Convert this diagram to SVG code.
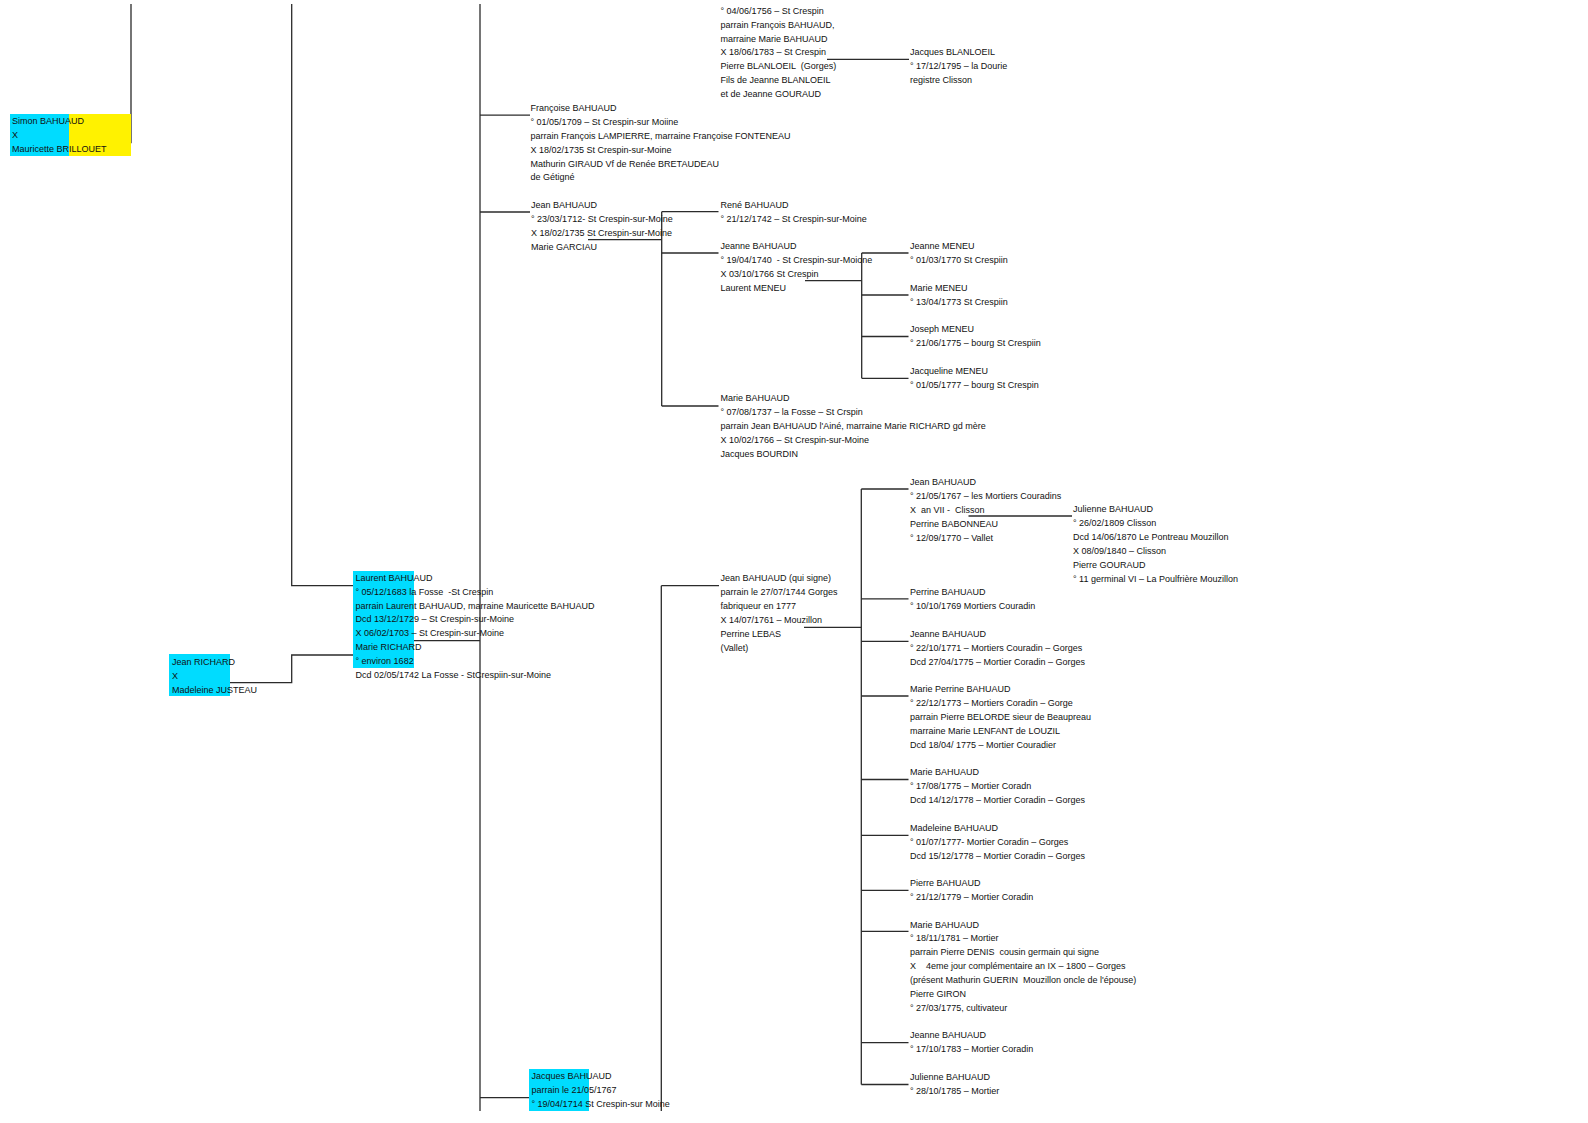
<svg xmlns="http://www.w3.org/2000/svg" width="1588" height="1123" viewBox="0 0 1588 1123">
<style>
.t{font-family:"Liberation Sans",Arial,sans-serif;font-size:9px;fill:#111;white-space:pre}
.cy{fill:#00DCFF}
.ye{fill:#FFF200}
.c path{fill:none;stroke:#2b2b2b;stroke-width:1.3}
</style>
<rect width="1588" height="1123" fill="#fff"/>
<g id="connectors" class="c">
<path d="M71,142.7 H131 V4"/>
<path d="M291.7,4 V585.7 H353"/>
<path d="M230,682.7 H291.7 V655 H353"/>
<path d="M414,640.7 H480"/>
<path d="M480,4 V1111"/>
<path d="M480,115.2 H530"/>
<path d="M480,212 H530"/>
<path d="M480,1097.7 H529"/>
<path d="M588,239.7 H661.7"/>
<path d="M661.7,211.7 V406"/>
<path d="M661.7,211.7 H718.5 M661.7,253 H718.5 M661.7,406 H718.5"/>
<path d="M805,280.7 H861.7"/>
<path d="M861.7,253 V378.3"/>
<path d="M861.7,253 H908.5 M861.7,295 H908.5 M861.7,336.5 H908.5 M861.7,378.3 H908.5"/>
<path d="M827,59.3 H909"/>
<path d="M661.3,585.7 V1111"/>
<path d="M661.3,585.7 H719"/>
<path d="M804,627.3 H861.3"/>
<path d="M861.3,489 V1084.5"/>
<path d="M861.3,489 H908.5 M861.3,598.8 H908.5 M861.3,641.3 H908.5 M861.3,696 H908.5 M861.3,779.5 H908.5 M861.3,835.3 H908.5 M861.3,890.4 H908.5 M861.3,931.4 H908.5 M861.3,1042.6 H908.5 M861.3,1084.5 H908.5"/>
<path d="M968.5,516 H1072"/>
</g>
<g id="n_simon">
<rect class="cy" x="10" y="114" width="59" height="42"/>
<rect class="ye" x="69" y="114" width="62" height="42"/>
<text class="t" x="12" y="123.9"><tspan x="12">Simon BAHUAUD</tspan><tspan x="12" dy="13.9">X</tspan><tspan x="12" dy="13.9">Mauricette BRILLOUET</tspan></text>
</g>
<g id="n_richard">
<rect class="cy" x="169" y="654" width="61" height="42"/>
<text class="t" x="172" y="664.8"><tspan x="172">Jean RICHARD</tspan><tspan x="172" dy="13.9">X</tspan><tspan x="172" dy="13.9">Madeleine JUSTEAU</tspan></text>
</g>
<g id="n_laurent">
<rect class="cy" x="353" y="571" width="61" height="97"/>
<text class="t" x="355.5" y="580.7"><tspan x="355.5">Laurent BAHUAUD</tspan><tspan x="355.5" dy="13.9">° 05/12/1683 la Fosse  -St Crespin</tspan><tspan x="355.5" dy="13.9">parrain Laurent BAHUAUD, marraine Mauricette BAHUAUD</tspan><tspan x="355.5" dy="13.9">Dcd 13/12/1729 – St Crespin-sur-Moine</tspan><tspan x="355.5" dy="13.9">X 06/02/1703 – St Crespin-sur-Moine</tspan><tspan x="355.5" dy="13.9">Marie RICHARD</tspan><tspan x="355.5" dy="13.9">° environ 1682</tspan><tspan x="355.5" dy="13.9">Dcd 02/05/1742 La Fosse - StCrespiin-sur-Moine</tspan></text>
</g>
<g id="n_francoise">
<text class="t" x="530.5" y="110.9"><tspan x="530.5">Françoise BAHUAUD</tspan><tspan x="530.5" dy="13.9">° 01/05/1709 – St Crespin-sur Moiine</tspan><tspan x="530.5" dy="13.9">parrain François LAMPIERRE, marraine Françoise FONTENEAU</tspan><tspan x="530.5" dy="13.9">X 18/02/1735 St Crespin-sur-Moine</tspan><tspan x="530.5" dy="13.9">Mathurin GIRAUD Vf de Renée BRETAUDEAU</tspan><tspan x="530.5" dy="13.9">de Gétigné</tspan></text>
</g>
<g id="n_jean1712">
<text class="t" x="531" y="208.1"><tspan x="531">Jean BAHUAUD</tspan><tspan x="531" dy="13.9">° 23/03/1712- St Crespin-sur-Moine</tspan><tspan x="531" dy="13.9">X 18/02/1735 St Crespin-sur-Moine</tspan><tspan x="531" dy="13.9">Marie GARCIAU</tspan></text>
</g>
<g id="n_jacques">
<rect class="cy" x="529" y="1069" width="60" height="42"/>
<text class="t" x="531.5" y="1079.4"><tspan x="531.5">Jacques BAHUAUD</tspan><tspan x="531.5" dy="13.9">parrain le 21/05/1767</tspan><tspan x="531.5" dy="13.9">° 19/04/1714 St Crespin-sur Moine</tspan></text>
</g>
<g id="n_top">
<text class="t" x="720.5" y="13.7"><tspan x="720.5">° 04/06/1756 – St Crespin</tspan><tspan x="720.5" dy="13.9">parrain François BAHUAUD,</tspan><tspan x="720.5" dy="13.9">marraine Marie BAHUAUD</tspan><tspan x="720.5" dy="13.9">X 18/06/1783 – St Crespin</tspan><tspan x="720.5" dy="13.9">Pierre BLANLOEIL  (Gorges)</tspan><tspan x="720.5" dy="13.9">Fils de Jeanne BLANLOEIL</tspan><tspan x="720.5" dy="13.9">et de Jeanne GOURAUD</tspan></text>
</g>
<g id="n_blanloeil">
<text class="t" x="910" y="55.4"><tspan x="910">Jacques BLANLOEIL</tspan><tspan x="910" dy="13.9">° 17/12/1795 – la Dourie</tspan><tspan x="910" dy="13.9">registre Clisson</tspan></text>
</g>
<g id="n_rene">
<text class="t" x="720.5" y="208.1"><tspan x="720.5">René BAHUAUD</tspan><tspan x="720.5" dy="13.9">° 21/12/1742 – St Crespin-sur-Moine</tspan></text>
</g>
<g id="n_jeanne1740">
<text class="t" x="720.5" y="249.1"><tspan x="720.5">Jeanne BAHUAUD</tspan><tspan x="720.5" dy="13.9">° 19/04/1740  - St Crespin-sur-Moione</tspan><tspan x="720.5" dy="13.9">X 03/10/1766 St Crespin</tspan><tspan x="720.5" dy="13.9">Laurent MENEU</tspan></text>
</g>
<g id="n_marie1737">
<text class="t" x="720.5" y="401.2"><tspan x="720.5">Marie BAHUAUD</tspan><tspan x="720.5" dy="13.9">° 07/08/1737 – la Fosse – St Crspin</tspan><tspan x="720.5" dy="13.9">parrain Jean BAHUAUD l'Ainé, marraine Marie RICHARD gd mère</tspan><tspan x="720.5" dy="13.9">X 10/02/1766 – St Crespin-sur-Moine</tspan><tspan x="720.5" dy="13.9">Jacques BOURDIN</tspan></text>
</g>
<g id="n_jeanne_meneu">
<text class="t" x="910" y="249.1"><tspan x="910">Jeanne MENEU</tspan><tspan x="910" dy="13.9">° 01/03/1770 St Crespiin</tspan></text>
</g>
<g id="n_marie_meneu">
<text class="t" x="910" y="291.1"><tspan x="910">Marie MENEU</tspan><tspan x="910" dy="13.9">° 13/04/1773 St Crespiin</tspan></text>
</g>
<g id="n_joseph_meneu">
<text class="t" x="910" y="332.3"><tspan x="910">Joseph MENEU</tspan><tspan x="910" dy="13.9">° 21/06/1775 – bourg St Crespiin</tspan></text>
</g>
<g id="n_jacqueline_meneu">
<text class="t" x="910" y="374.1"><tspan x="910">Jacqueline MENEU</tspan><tspan x="910" dy="13.9">° 01/05/1777 – bourg St Crespin</tspan></text>
</g>
<g id="n_jean_qui_signe">
<text class="t" x="720.5" y="581.1"><tspan x="720.5">Jean BAHUAUD (qui signe)</tspan><tspan x="720.5" dy="13.9">parrain le 27/07/1744 Gorges</tspan><tspan x="720.5" dy="13.9">fabriqueur en 1777</tspan><tspan x="720.5" dy="13.9">X 14/07/1761 – Mouzillon</tspan><tspan x="720.5" dy="13.9">Perrine LEBAS</tspan><tspan x="720.5" dy="13.9">(Vallet)</tspan></text>
</g>
<g id="n_jean1767">
<text class="t" x="910" y="484.9"><tspan x="910">Jean BAHUAUD</tspan><tspan x="910" dy="13.9">° 21/05/1767 – les Mortiers Couradins</tspan><tspan x="910" dy="13.9">X  an VII -  Clisson</tspan><tspan x="910" dy="13.9">Perrine BABONNEAU</tspan><tspan x="910" dy="13.9">° 12/09/1770 – Vallet</tspan></text>
</g>
<g id="n_julienne1809">
<text class="t" x="1073" y="512.4"><tspan x="1073">Julienne BAHUAUD</tspan><tspan x="1073" dy="13.9">° 26/02/1809 Clisson</tspan><tspan x="1073" dy="13.9">Dcd 14/06/1870 Le Pontreau Mouzillon</tspan><tspan x="1073" dy="13.9">X 08/09/1840 – Clisson</tspan><tspan x="1073" dy="13.9">Pierre GOURAUD</tspan><tspan x="1073" dy="13.9">° 11 germinal VI – La Poulfrière Mouzillon</tspan></text>
</g>
<g id="n_perrine1769">
<text class="t" x="910" y="594.9"><tspan x="910">Perrine BAHUAUD</tspan><tspan x="910" dy="13.9">° 10/10/1769 Mortiers Couradin</tspan></text>
</g>
<g id="n_jeanne1771">
<text class="t" x="910" y="637.4"><tspan x="910">Jeanne BAHUAUD</tspan><tspan x="910" dy="13.9">° 22/10/1771 – Mortiers Couradin – Gorges</tspan><tspan x="910" dy="13.9">Dcd 27/04/1775 – Mortier Coradin – Gorges</tspan></text>
</g>
<g id="n_marie_perrine">
<text class="t" x="910" y="692.1"><tspan x="910">Marie Perrine BAHUAUD</tspan><tspan x="910" dy="13.9">° 22/12/1773 – Mortiers Coradin – Gorge</tspan><tspan x="910" dy="13.9">parrain Pierre BELORDE sieur de Beaupreau</tspan><tspan x="910" dy="13.9">marraine Marie LENFANT de LOUZIL</tspan><tspan x="910" dy="13.9">Dcd 18/04/ 1775 – Mortier Couradier</tspan></text>
</g>
<g id="n_marie1775">
<text class="t" x="910" y="775.3"><tspan x="910">Marie BAHUAUD</tspan><tspan x="910" dy="13.9">° 17/08/1775 – Mortier Coradn</tspan><tspan x="910" dy="13.9">Dcd 14/12/1778 – Mortier Coradin – Gorges</tspan></text>
</g>
<g id="n_madeleine">
<text class="t" x="910" y="831.1"><tspan x="910">Madeleine BAHUAUD</tspan><tspan x="910" dy="13.9">° 01/07/1777- Mortier Coradin – Gorges</tspan><tspan x="910" dy="13.9">Dcd 15/12/1778 – Mortier Coradin – Gorges</tspan></text>
</g>
<g id="n_pierre">
<text class="t" x="910" y="886.3"><tspan x="910">Pierre BAHUAUD</tspan><tspan x="910" dy="13.9">° 21/12/1779 – Mortier Coradin</tspan></text>
</g>
<g id="n_marie1781">
<text class="t" x="910" y="927.5"><tspan x="910">Marie BAHUAUD</tspan><tspan x="910" dy="13.9">° 18/11/1781 – Mortier</tspan><tspan x="910" dy="13.9">parrain Pierre DENIS  cousin germain qui signe</tspan><tspan x="910" dy="13.9">X    4eme jour complémentaire an IX – 1800 – Gorges</tspan><tspan x="910" dy="13.9">(présent Mathurin GUERIN  Mouzillon oncle de l'épouse)</tspan><tspan x="910" dy="13.9">Pierre GIRON</tspan><tspan x="910" dy="13.9">° 27/03/1775, cultivateur</tspan></text>
</g>
<g id="n_jeanne1783">
<text class="t" x="910" y="1038.3"><tspan x="910">Jeanne BAHUAUD</tspan><tspan x="910" dy="13.9">° 17/10/1783 – Mortier Coradin</tspan></text>
</g>
<g id="n_julienne1785">
<text class="t" x="910" y="1080.4"><tspan x="910">Julienne BAHUAUD</tspan><tspan x="910" dy="13.9">° 28/10/1785 – Mortier</tspan></text>
</g>
</svg>
